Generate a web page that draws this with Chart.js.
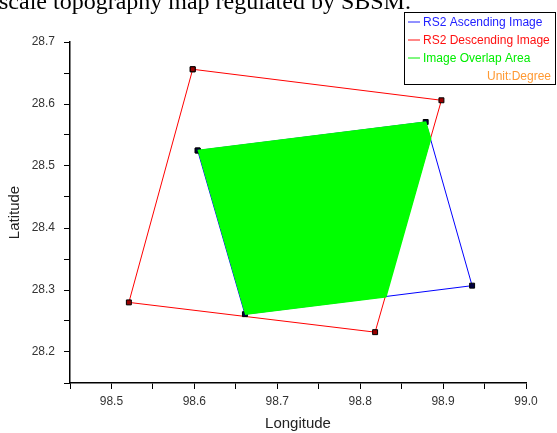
<!DOCTYPE html>
<html>
<head>
<meta charset="utf-8">
<script src="https://cdn.jsdelivr.net/npm/chart.js@4"></script>
<style>
  html, body { margin: 0; padding: 0; background: #fff; }
  #wrap { position: relative; width: 557px; height: 433px; }
</style>
</head>
<body>
<div id="wrap"><canvas id="overlapChart" width="557" height="433"></canvas></div>
<script>
/* ---------- data ---------- */
const ascLon = [98.604, 98.879, 98.935, 98.661, 98.604];
const ascLat = [28.525, 28.571, 28.307, 28.261, 28.525];

const descLon = [98.598, 98.898, 98.818, 98.521, 98.598];
const descLat = [28.656, 28.606, 28.232, 28.280, 28.656];

const overlapLon = [98.604, 98.879, 98.885, 98.831, 98.661];
const overlapLat = [28.525, 28.571, 28.544, 28.289, 28.261];

const legendNames = ["RS2 Ascending Image", "RS2 Descending Image", "Image Overlap Area"];
const legendColors = ["#2222ff", "#ff1111", "#00ee00"];
const unitText = "Unit:Degree";
const captionText = "scale topography map regulated by SBSM.";

function pts(xs, ys) {
    return xs.map((x, i) => ({ x: x, y: ys[i] }));
}

function isMajor(v) {
    return Math.abs(v * 10 - Math.round(v * 10)) < 1e-6;
}

/* ---------- legend box + clipped caption ---------- */
const extras = {
    id: "extras",
    afterDraw(chart) {
        const c = chart.ctx;
        c.save();

        // caption line from the page above the figure
        c.fillStyle = "#000";
        c.font = "24px 'Liberation Serif'";
        c.textBaseline = "alphabetic";
        c.textAlign = "left";
        c.fillText(captionText, -1, 9);

        // legend box
        const bx = 404, by = 12, bw = 151, bh = 72;
        c.fillStyle = "#fff";
        c.fillRect(bx, by, bw, bh);
        c.strokeStyle = "#000";
        c.lineWidth = 1;
        c.strokeRect(bx + 0.5, by + 0.5, bw, bh);

        c.font = "12px 'Liberation Sans'";
        c.textBaseline = "middle";
        legendNames.forEach((name, i) => {
            const y = 21.5 + i * 18;
            c.strokeStyle = legendColors[i];
            c.beginPath();
            c.moveTo(408, y + 0.5);
            c.lineTo(420, y + 0.5);
            c.stroke();
            c.fillStyle = legendColors[i];
            c.fillText(name, 423, y + 1);
        });
        c.fillStyle = "#ff9933";
        c.textAlign = "right";
        c.fillText(unitText, 551, 21.5 + 3 * 18 + 1);

        c.restore();
    }
};

/* ---------- chart ---------- */
const ctx = document.getElementById("overlapChart");

new Chart(ctx, {
    type: "scatter",
    data: {
        datasets: [
            {
                label: legendNames[2],
                data: pts(overlapLon, overlapLat),
                showLine: true,
                fill: "shape",
                backgroundColor: "#00ff00",
                borderColor: "#00ff00",
                borderWidth: 1.5,
                pointRadius: 0
            },
            {
                label: legendNames[0],
                data: pts(ascLon, ascLat),
                showLine: true,
                borderColor: "#0000ff",
                borderWidth: 1,
                pointStyle: "rect",
                pointRadius: 3.5,
                pointBackgroundColor: "#000040",
                pointBorderColor: "#000",
                pointBorderWidth: 1
            },
            {
                label: legendNames[1],
                data: pts(descLon, descLat),
                showLine: true,
                borderColor: "#ff0000",
                borderWidth: 1,
                pointStyle: "rect",
                pointRadius: 3.5,
                pointBackgroundColor: "#990000",
                pointBorderColor: "#000",
                pointBorderWidth: 1
            }
        ]
    },
    options: {
        responsive: false,
        animation: false,
        layout: { padding: { left: 0, top: 42, right: 31, bottom: 0 } },
        plugins: {
            legend: { display: false },
            tooltip: { enabled: false }
        },
        scales: {
            x: {
                type: "linear",
                min: 98.45,
                max: 99.0,
                afterFit(scale) { scale.height = 50; },
                grid: {
                    drawOnChartArea: false,
                    drawTicks: true,
                    tickLength: 6,
                    color: "#000"
                },
                border: { display: true, color: "#000", width: 1.5 },
                ticks: {
                    stepSize: 0.05,
                    autoSkip: false,
                    maxRotation: 0,
                    padding: 5,
                    color: "#333",
                    font: { family: "'Liberation Sans'", size: 12 },
                    callback: (v) => isMajor(v) ? v.toFixed(1) : ""
                },
                title: {
                    display: true,
                    text: "Longitude",
                    color: "#222",
                    padding: { top: 4, bottom: 0 },
                    font: { family: "'Liberation Sans'", size: 15 }
                }
            },
            y: {
                type: "linear",
                min: 28.15,
                max: 28.7,
                afterFit(scale) { scale.width = 70; },
                grid: {
                    drawOnChartArea: false,
                    drawTicks: true,
                    tickLength: 6,
                    color: "#000"
                },
                border: { display: true, color: "#000", width: 1.5 },
                ticks: {
                    stepSize: 0.05,
                    autoSkip: false,
                    padding: 9,
                    color: "#333",
                    font: { family: "'Liberation Sans'", size: 12 },
                    callback: (v) => isMajor(v) ? v.toFixed(1) : ""
                },
                title: {
                    display: true,
                    text: "Latitude",
                    color: "#222",
                    padding: { top: 6, bottom: 0 },
                    font: { family: "'Liberation Sans'", size: 15 }
                }
            }
        }
    },
    plugins: [extras]
});
</script>
</body>
</html>
